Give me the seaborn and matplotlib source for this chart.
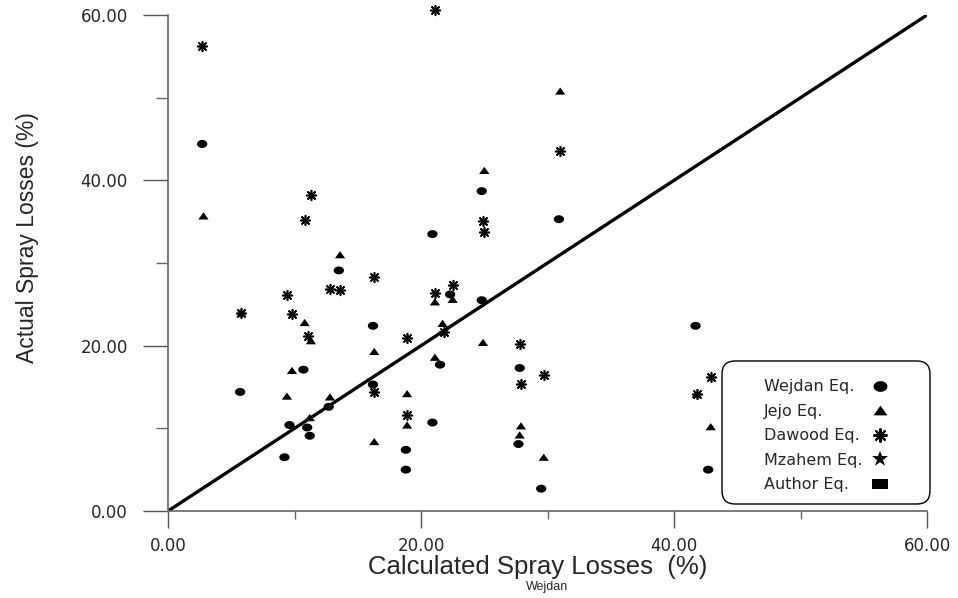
import numpy as np
import pandas as pd
import matplotlib
matplotlib.use("Agg")
import matplotlib.pyplot as plt
from matplotlib.lines import Line2D
from matplotlib.patches import FancyBboxPatch
from matplotlib.ticker import MultipleLocator, StrMethodFormatter
import seaborn as sns

# calculated (x) vs actual (y) spray losses, %
wejdan_x = [2.7, 13.5, 10.7, 5.7, 12.7, 9.6, 11.0, 11.2, 9.2, 24.8, 20.9, 30.9, 22.3,
            24.8, 16.2, 21.5, 27.8, 16.2, 20.9, 27.7, 18.8, 18.8, 29.5, 41.7, 42.7]
wejdan_y = [44.4, 29.1, 17.1, 14.4, 12.6, 10.4, 10.1, 9.1, 6.5, 38.7, 33.5, 35.3, 26.2,
            25.5, 22.4, 17.7, 17.3, 15.3, 10.7, 8.1, 7.4, 5.0, 2.7, 22.4, 5.0]

jejo_x = [2.8, 13.6, 5.8, 10.8, 11.3, 9.8, 9.4, 12.8, 11.2, 31.0, 25.0, 22.5, 21.1,
          21.7, 24.9, 16.3, 21.1, 18.9, 18.9, 27.9, 27.8, 16.3, 29.7, 41.8, 42.9]
jejo_y = [35.7, 31.0, 23.9, 22.8, 20.6, 17.0, 13.9, 13.8, 11.3, 50.8, 41.2, 25.6, 25.3,
          22.7, 20.4, 19.3, 18.6, 14.2, 10.4, 10.3, 9.2, 8.4, 6.5, 14.1, 10.2]

dawood_x = [2.7, 11.3, 10.8, 12.8, 13.6, 9.4, 5.8, 9.8, 11.1, 21.1, 31.0, 24.9, 25.0,
            16.3, 22.5, 21.1, 21.8, 18.9, 27.8, 29.7, 27.9, 16.3, 18.9, 42.9, 41.8]
dawood_y = [56.3, 38.2, 35.2, 26.8, 26.7, 26.1, 23.9, 23.8, 21.2, 60.6, 43.5, 35.1, 33.7,
            28.3, 27.3, 26.4, 21.7, 20.9, 20.2, 16.5, 15.4, 14.4, 11.6, 16.2, 14.1]

line_x = [0, 60]
line_y = [0, 60]

legend_labels = ["Wejdan Eq.", "Jejo Eq.", "Dawood Eq.", "Mzahem Eq.", "Author Eq."]
ticks = [0, 20, 40, 60]

# marker shapes (slightly wide, like the original)
t = np.linspace(0, 2 * np.pi, 40)
ellipse = np.column_stack([1.3 * np.cos(t), np.sin(t)])
tri = [(-1, -0.7), (1, -0.7), (0, 0.7)]
rect = [(-1, -0.55), (1, -0.55), (1, 0.55), (-1, 0.55)]
burst = (8, 2, 0)

sns.set_style("white")
plt.rcParams["font.family"] = ["DejaVu Sans"]

fig, ax = plt.subplots(figsize=(9.58, 5.98), dpi=100)
fig.subplots_adjust(left=0.1754, right=0.9677, bottom=0.1455, top=0.9749)

sns.lineplot(x=line_x, y=line_y, color="black", linewidth=2.4, ax=ax, zorder=2)

wejdan = pd.DataFrame({"x": wejdan_x, "y": wejdan_y})
jejo = pd.DataFrame({"x": jejo_x, "y": jejo_y})
dawood = pd.DataFrame({"x": dawood_x, "y": dawood_y})

sns.scatterplot(data=wejdan, x="x", y="y", marker=ellipse, s=55, color="black",
                edgecolor="none", ax=ax, clip_on=False, zorder=3)
sns.scatterplot(data=jejo, x="x", y="y", marker=tri, s=55, color="black",
                edgecolor="none", ax=ax, clip_on=False, zorder=3)
ax.scatter(dawood["x"], dawood["y"], marker=burst, s=48, color="black",
           linewidths=1.2, clip_on=False, zorder=3)

ax.set_xlim(0, 60)
ax.set_ylim(0, 60)
ax.set_xticks(ticks)
ax.set_yticks(ticks)
ax.xaxis.set_minor_locator(MultipleLocator(10))
ax.yaxis.set_minor_locator(MultipleLocator(10))
ax.xaxis.set_major_formatter(StrMethodFormatter("{x:.2f}"))
ax.yaxis.set_major_formatter(StrMethodFormatter("{x:.2f}"))

for side in ["top", "right"]:
    ax.spines[side].set_visible(False)
for side in ["left", "bottom"]:
    ax.spines[side].set_color("#666666")
    ax.spines[side].set_linewidth(1.2)

ax.tick_params(axis="y", which="major", direction="out", length=18, width=1,
               color="#555555", pad=11, labelsize=12, left=True)
ax.tick_params(axis="y", which="minor", direction="out", length=8.6, width=1,
               color="#666666", left=True)
ax.tick_params(axis="x", which="major", direction="out", length=12, width=1,
               color="#555555", pad=7, labelsize=12, bottom=True)
ax.tick_params(axis="x", which="minor", direction="out", length=6, width=1,
               color="#666666", bottom=True)

ax.set_xlabel("Calculated Spray Losses  (%)", fontsize=18.5,
              family=["Liberation Sans", "DejaVu Sans"])
ax.xaxis.set_label_coords(0.4875, -0.088)
ax.set_ylabel("Actual Spray Losses (%)", fontsize=16.5,
              family=["Liberation Sans", "DejaVu Sans"])
ax.yaxis.set_label_coords(-0.170, 0.552)

fig.text(547 / 958, 1 - 587 / 598, "Wejdan", ha="center", va="center",
         fontsize=9, family=["Liberation Sans", "DejaVu Sans"])

# legend box
box = FancyBboxPatch((7.22, 0.94), 2.08, 1.43,
                     boxstyle="round,pad=0,rounding_size=0.13",
                     transform=fig.dpi_scale_trans, facecolor="white",
                     edgecolor="black", linewidth=1, zorder=4, clip_on=False)
ax.add_patch(box)

handles = [
    Line2D([], [], ls="none", marker=ellipse, markersize=10, color="black", mew=0),
    Line2D([], [], ls="none", marker=tri, markersize=10, color="black", mew=0),
    Line2D([], [], ls="none", marker=burst, markersize=10, color="black", mew=1.5),
    Line2D([], [], ls="none", marker="*", markersize=12, color="black", mew=0),
    Line2D([], [], ls="none", marker=rect, markersize=12, color="black", mew=0),
]
leg = ax.legend(handles, legend_labels, loc="upper left", bbox_to_anchor=(0.7747, 0.282),
                frameon=False, markerfirst=False, borderpad=0, handletextpad=0.3,
                handlelength=1.5, labelspacing=0.6, fontsize=11.5)
leg.set_zorder(5)

# left-align the labels while keeping the markers in one column
try:
    for column in leg._legend_handle_box.get_children():
        for row in column.get_children():
            row.mode = "expand"
            row.width = 128
except AttributeError:
    pass

plt.savefig("out.png", dpi=100)
